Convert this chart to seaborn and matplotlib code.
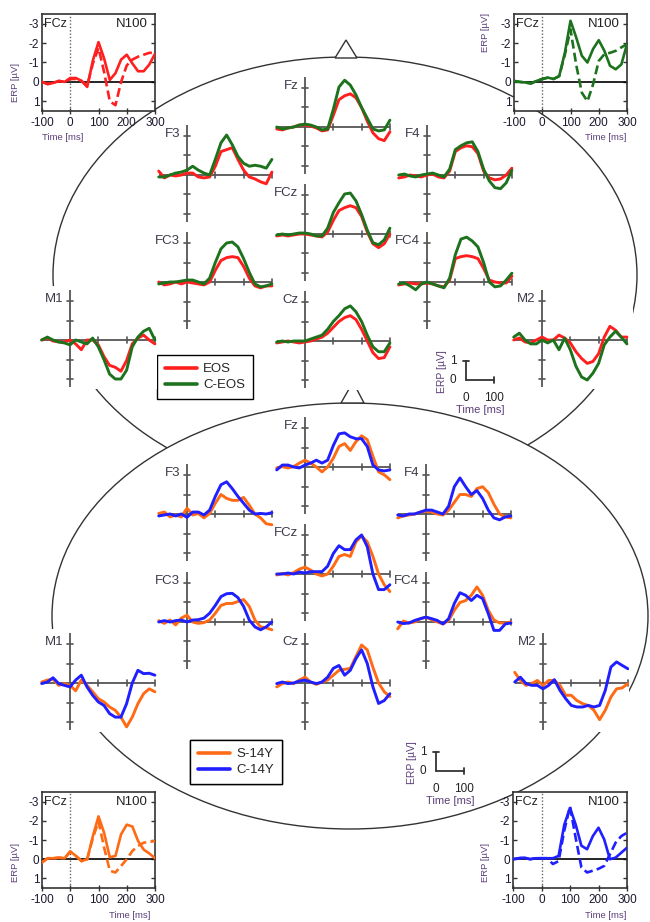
import numpy as np
import pandas as pd
import matplotlib
matplotlib.use("Agg")
import matplotlib.pyplot as plt
import seaborn as sns
from matplotlib.patches import Ellipse, Polygon
from matplotlib.lines import Line2D

sns.set_theme(style="white")
plt.rcParams["font.family"] = ["Liberation Sans", "DejaVu Sans"]
plt.rcParams["axes.unicode_minus"] = False

# ---------------- data (µV, negative plotted upward) ----------------
T = list(range(-100, 301, 20))
ELECTRODES = ["Fz", "F3", "F4", "FC3", "FCz", "FC4", "M1", "Cz", "M2"]

# upper head: EOS (red) vs C-EOS (green)
EOS_Fz = [0.1, 0.15, 0.05, 0.0, -0.1, -0.1, -0.05, 0.05, 0.2, 0.15, -0.6, -1.4, -1.6, -1.7, -1.5, -1.0, -0.3, 0.3, 0.6, 0.7, 0.25]
CEOS_Fz = [0.0, 0.1, 0.05, 0.0, -0.1, -0.15, -0.1, 0.0, 0.15, 0.1, -0.9, -2.05, -2.4, -2.15, -1.65, -1.0, -0.45, 0.1, 0.2, 0.15, -0.35]
EOS_F3 = [-0.2, 0.15, 0.0, 0.05, 0.0, -0.1, -0.1, 0.1, 0.15, 0.1, -0.45, -1.2, -1.3, -1.4, -0.8, -0.25, 0.1, 0.2, 0.35, 0.45, -0.15]
CEOS_F3 = [0.1, 0.1, 0.0, -0.1, -0.15, -0.25, -0.45, -0.25, -0.1, 0.0, -0.8, -1.65, -2.05, -1.55, -0.95, -0.6, -0.45, -0.5, -0.45, -0.35, -0.8]
EOS_F4 = [0.15, 0.1, 0.0, 0.05, 0.1, 0.0, -0.05, 0.1, 0.15, -0.2, -1.2, -1.4, -1.5, -1.45, -1.1, -0.2, 0.15, 0.25, 0.2, 0.0, -0.35]
CEOS_F4 = [0.0, -0.05, 0.05, 0.1, 0.0, -0.05, -0.1, 0.0, 0.1, -0.3, -1.3, -1.5, -1.65, -1.7, -1.2, -0.3, 0.3, 0.65, 0.7, 0.4, -0.25]
EOS_FC3 = [0.0, 0.15, 0.1, 0.0, 0.1, 0.0, 0.05, 0.1, 0.15, 0.0, -0.6, -1.1, -1.25, -1.3, -1.25, -0.8, -0.2, 0.2, 0.3, 0.2, 0.2]
CEOS_FC3 = [0.1, 0.05, 0.0, 0.0, -0.05, -0.1, -0.1, 0.0, 0.1, -0.2, -1.0, -1.7, -2.0, -2.05, -1.8, -1.2, -0.5, 0.1, 0.25, 0.2, 0.1]
EOS_FCz = [0.1, 0.05, 0.1, 0.05, 0.0, 0.0, 0.05, 0.1, 0.15, -0.1, -0.7, -1.2, -1.35, -1.45, -1.35, -0.9, -0.1, 0.5, 0.7, 0.5, 0.0]
CEOS_FCz = [0.05, 0.0, 0.05, 0.0, -0.05, -0.05, 0.0, 0.1, 0.1, -0.3, -1.1, -1.6, -2.05, -2.1, -1.7, -1.0, -0.2, 0.45, 0.55, 0.3, -0.3]
EOS_FC4 = [0.15, 0.1, 0.05, 0.1, 0.1, 0.05, 0.1, 0.2, 0.25, -0.1, -1.2, -1.3, -1.35, -1.3, -1.2, -0.7, -0.1, 0.0, 0.05, 0.05, -0.3]
CEOS_FC4 = [0.1, 0.05, 0.2, 0.4, 0.1, 0.0, 0.1, 0.2, 0.3, -0.2, -1.4, -2.2, -2.3, -2.1, -1.8, -1.0, 0.0, 0.25, 0.2, -0.1, -0.45]
EOS_M1 = [0.0, -0.1, 0.05, 0.1, 0.1, 0.0, 0.2, 0.5, 0.0, 0.0, 0.25, 0.85, 1.3, 1.4, 1.6, 1.05, 0.2, -0.1, -0.25, 0.0, 0.2]
CEOS_M1 = [0.0, -0.15, 0.0, 0.1, 0.15, 0.25, 0.0, 0.1, 0.2, -0.1, 0.35, 1.0, 1.75, 2.0, 2.0, 1.55, 0.35, -0.15, -0.45, -0.6, 0.0]
EOS_Cz = [0.1, 0.05, 0.0, 0.05, 0.1, 0.05, 0.0, -0.1, -0.2, -0.4, -0.7, -1.0, -1.2, -1.3, -1.1, -0.6, 0.0, 0.6, 0.9, 0.85, 0.3]
CEOS_Cz = [0.05, 0.0, 0.05, 0.0, 0.0, 0.0, -0.1, -0.2, -0.3, -0.6, -1.0, -1.3, -1.65, -1.8, -1.5, -1.0, -0.3, 0.3, 0.55, 0.55, 0.1]
EOS_M2 = [0.0, -0.1, 0.1, 0.15, 0.0, -0.15, 0.0, 0.0, -0.25, -0.1, 0.15, 0.6, 0.95, 1.2, 1.1, 0.7, -0.15, -0.7, -0.5, -0.15, -0.15]
CEOS_M2 = [-0.15, -0.35, 0.0, 0.2, 0.2, 0.0, 0.15, 0.0, 0.5, -0.1, 0.5, 1.35, 1.9, 2.05, 1.7, 1.2, 0.25, -0.15, -0.45, -0.15, 0.2]

# lower head: S-14Y (orange) vs C-14Y (blue)
S14_Fz = [0.05, -0.02, 0.05, -0.02, -0.2, -0.35, -0.2, 0.0, 0.25, 0.0, -0.45, -1.05, -1.2, -0.85, -1.3, -1.6, -1.4, -0.55, 0.25, 0.4, 0.65]
C14_Fz = [0.15, -0.1, -0.1, 0.0, 0.05, -0.1, -0.2, -0.35, -0.2, -0.35, -1.1, -1.7, -1.75, -1.55, -1.45, -1.45, -1.05, -0.1, 0.15, 0.2, 0.15]
S14_F3 = [-0.03, -0.1, 0.15, 0.05, 0.15, -0.3, 0.05, -0.03, 0.2, -0.03, -0.55, -1.0, -0.8, -0.7, -0.7, -0.85, -0.45, 0.0, 0.2, 0.5, 0.55]
C14_F3 = [0.1, 0.05, 0.0, 0.1, 0.0, 0.17, -0.1, -0.1, 0.05, -0.2, -0.9, -1.5, -1.65, -1.3, -0.9, -0.55, -0.2, 0.0, -0.03, 0.0, -0.07]
S14_F4 = [0.2, 0.1, 0.05, 0.0, -0.1, -0.15, -0.1, 0.0, 0.05, -0.2, -0.6, -1.0, -1.0, -0.9, -1.3, -1.4, -1.1, -0.5, 0.0, 0.15, 0.2]
C14_F4 = [0.05, 0.1, 0.0, 0.0, -0.1, -0.2, -0.2, -0.1, 0.0, -0.4, -1.4, -1.85, -1.4, -1.0, -1.2, -0.8, -0.2, 0.2, 0.3, 0.15, 0.1]
S14_FC3 = [-0.07, 0.07, -0.1, 0.15, -0.2, -0.35, 0.0, 0.07, 0.03, -0.1, -0.45, -0.85, -0.95, -0.95, -1.05, -1.15, -0.8, -0.1, 0.25, 0.3, 0.4]
C14_FC3 = [0.0, -0.07, 0.0, -0.07, -0.1, 0.0, -0.1, -0.12, -0.2, -0.45, -0.85, -1.3, -1.45, -1.47, -1.25, -0.8, -0.1, 0.25, 0.4, 0.25, 0.0]
S14_FCz = [0.05, -0.03, 0.05, -0.07, -0.25, -0.35, -0.2, 0.0, 0.1, 0.0, -0.4, -0.9, -1.0, -0.9, -1.65, -1.95, -1.65, -0.9, 0.0, 0.55, 0.9]
C14_FCz = [0.0, 0.0, -0.05, 0.0, -0.1, -0.05, -0.12, -0.12, -0.12, -0.4, -1.05, -1.45, -1.25, -1.25, -1.75, -2.0, -1.4, 0.0, 0.8, 0.8, 0.55]
S14_FC4 = [0.35, -0.05, 0.05, 0.0, -0.17, -0.25, -0.12, 0.0, 0.1, -0.08, -0.6, -1.0, -1.1, -1.37, -1.8, -1.37, -0.6, -0.1, 0.05, 0.05, 0.0]
C14_FC4 = [0.0, 0.08, 0.05, -0.08, -0.17, -0.25, -0.17, -0.08, 0.1, -0.17, -0.95, -1.5, -1.37, -1.1, -1.37, -1.2, -0.43, 0.43, 0.43, 0.1, 0.05]
S14_M1 = [-0.05, -0.15, -0.2, 0.12, 0.03, 0.12, 0.4, -0.15, 0.12, 0.45, 0.8, 0.97, 1.23, 1.4, 1.75, 2.25, 1.75, 1.06, 0.55, 0.3, 0.45]
C14_M1 = [0.03, -0.05, -0.27, 0.03, 0.12, 0.2, -0.15, -0.4, 0.2, 0.63, 0.97, 1.15, 1.57, 1.75, 1.75, 1.06, 0.0, -0.65, -0.48, -0.5, -0.4]
S14_Cz = [0.2, 0.03, -0.05, 0.03, -0.15, -0.3, -0.05, 0.07, -0.05, -0.15, -0.4, -0.65, -0.7, -0.75, -1.35, -1.95, -1.7, -0.8, 0.0, 0.45, 0.7]
C14_Cz = [0.03, -0.05, 0.03, 0.0, -0.1, -0.15, -0.05, 0.03, -0.05, -0.3, -0.75, -0.9, -0.4, -0.65, -1.25, -1.7, -1.0, 0.2, 1.05, 0.9, 0.55]
S14_M2 = [-0.55, -0.13, 0.12, 0.03, -0.13, 0.12, -0.13, -0.13, 0.12, 0.63, 0.63, 0.9, 1.06, 1.15, 1.4, 1.88, 1.4, 0.72, 0.3, 0.25, 0.03]
C14_M2 = [-0.05, -0.3, 0.03, 0.12, 0.12, 0.3, 0.12, -0.17, 0.38, 0.8, 1.15, 1.23, 1.23, 1.15, 1.23, 1.15, 0.38, -0.82, -1.08, -0.9, -0.73]

# FCz N100 insets (solid / dashed)
EOS_N100_SOLID = [0.0, 0.12, 0.05, -0.05, 0.0, -0.2, -0.2, -0.05, 0.26, -1.1, -2.05, -1.2, -0.1, -0.45, -1.15, -1.4, -0.95, -0.55, -0.55, -0.9, -1.45]
EOS_N100_DASHED = [0.0, 0.1, 0.05, -0.05, 0.0, -0.15, -0.15, -0.05, 0.2, -0.95, -1.75, -0.5, 1.0, 1.2, 0.0, -0.85, -1.15, -1.3, -1.4, -1.5, -1.5]
CEOS_N100_SOLID = [-0.05, 0.0, 0.03, 0.08, -0.05, -0.15, -0.22, -0.15, -0.3, -1.5, -3.15, -2.3, -1.35, -1.0, -1.7, -2.15, -1.6, -0.83, -0.65, -0.9, -1.95]
CEOS_N100_DASHED = [-0.05, 0.0, 0.03, 0.08, -0.05, -0.15, -0.22, -0.15, -0.3, -1.4, -2.7, -0.9, 0.55, 1.0, 0.12, -1.08, -1.43, -1.5, -1.6, -1.78, -1.95]
S14_N100_SOLID = [0.17, -0.05, -0.05, -0.08, -0.05, -0.4, -0.17, 0.1, 0.0, -1.2, -2.23, -1.37, -0.1, -0.17, -1.3, -1.8, -1.7, -0.95, -0.5, -0.3, -0.05]
S14_N100_DASHED = [0.17, -0.05, -0.05, -0.08, -0.05, -0.4, -0.17, 0.1, 0.0, -1.1, -1.97, -0.6, 0.6, 0.69, 0.35, 0.0, -0.43, -0.69, -0.86, -0.9, -0.95]
C14_N100_SOLID = [0.0, -0.05, -0.08, 0.0, -0.05, -0.05, -0.05, -0.05, -0.17, -1.8, -2.67, -1.8, -0.7, -0.52, -1.2, -1.64, -1.03, 0.0, -0.08, -0.34, -0.6]
C14_N100_DASHED = [0.0, -0.05, -0.08, 0.0, -0.05, -0.05, -0.05, 0.25, 0.1, -1.5, -2.75, -1.1, 0.43, 0.69, 0.6, 0.5, 0.35, -0.25, -0.86, -1.2, -1.38]

UPPER = {"EOS": [EOS_Fz, EOS_F3, EOS_F4, EOS_FC3, EOS_FCz, EOS_FC4, EOS_M1, EOS_Cz, EOS_M2],
         "C-EOS": [CEOS_Fz, CEOS_F3, CEOS_F4, CEOS_FC3, CEOS_FCz, CEOS_FC4, CEOS_M1, CEOS_Cz, CEOS_M2]}
LOWER = {"S-14Y": [S14_Fz, S14_F3, S14_F4, S14_FC3, S14_FCz, S14_FC4, S14_M1, S14_Cz, S14_M2],
         "C-14Y": [C14_Fz, C14_F3, C14_F4, C14_FC3, C14_FCz, C14_FC4, C14_M1, C14_Cz, C14_M2]}


def to_frame(groups):
    rows = []
    for g, series in groups.items():
        for el, vals in zip(ELECTRODES, series):
            for t, v in zip(T, vals):
                rows.append((g, el, t, v))
    return pd.DataFrame(rows, columns=["group", "electrode", "t", "v"])


df_up = to_frame(UPPER)
df_low = to_frame(LOWER)

# ---------------- styling / layout ----------------
RED, GREEN, ORANGE, BLUE = "#ff1f1f", "#1d731d", "#ff6a14", "#1f1fff"
AXC = "#555555"
LBL = "#3a3a4a"
PURP = "#5b3f7a"
HEAD = "#333333"

W, H = 650, 922
SX, SY = 0.283, 19.5  # px per ms, px per µV

# pixel position of (t=0, v=0) for every electrode plot
POS_UP = {"Fz": (305, 127), "F3": (187, 175), "F4": (427, 175), "FC3": (187, 282), "FCz": (305, 234),
          "FC4": (427, 282), "M1": (70, 340), "Cz": (305, 341), "M2": (542, 340)}
POS_LOW = {"Fz": (305, 467), "F3": (187, 514), "F4": (426, 514), "FC3": (187, 622), "FCz": (305, 574),
           "FC4": (426, 622), "M1": (70, 683), "Cz": (305, 683), "M2": (543, 683)}

fig = plt.figure(figsize=(W / 100, H / 100), dpi=100)
bg = fig.add_axes([0, 0, 1, 1], zorder=0)
bg.set_xlim(0, W)
bg.set_ylim(H, 0)
bg.axis("off")

# head outlines
bg.add_patch(Ellipse((345, 275), 584, 436, fill=False, ec=HEAD, lw=1.0, zorder=1))
bg.add_patch(Ellipse((350, 616), 596, 426, fc="white", ec=HEAD, lw=1.0, zorder=2))
bg.add_patch(Polygon([(335, 58), (346, 40), (357, 58)], closed=True, fc="white", ec=HEAD, lw=1.0, zorder=3))
bg.add_patch(Polygon([(341, 403), (353, 382), (364, 403)], closed=True, fc="white", ec=HEAD, lw=1.0, zorder=3))


def px_axes(x0, y0, t0, t1, v0, v1, zorder=2, face="white"):
    left, right = x0 + t0 * SX, x0 + t1 * SX
    top, bottom = y0 + v0 * SY, y0 + v1 * SY
    ax = fig.add_axes([left / W, 1 - bottom / H, (right - left) / W, (bottom - top) / H], zorder=zorder)
    ax.set_facecolor(face)
    for s in ax.spines.values():
        s.set_visible(False)
    ax.set_xticks([])
    ax.set_yticks([])
    return ax, (t0, t1, v0, v1)


def electrode(name, origin, df, palette, order, t1=306):
    ax, lims = px_axes(origin[0], origin[1], -108, t1, -2.75, 2.5)
    ax.plot([0, 0], [-2.55, 2.4], color=AXC, lw=1.3, zorder=1, solid_capstyle="butt")
    ax.plot([-100, 300], [0, 0], color=AXC, lw=1.3, zorder=1, solid_capstyle="butt")
    for v in [-2, -1, 1, 2]:
        ax.plot([-9, 9], [v, v], color=AXC, lw=1.2, zorder=1)
    for t in [100, 200, 300]:
        ax.plot([t, t], [-0.17, 0.17], color=AXC, lw=1.2, zorder=1)
    sns.lineplot(data=df[df["electrode"] == name], x="t", y="v", hue="group", hue_order=order,
                 palette=palette, linewidth=2.1, legend=False, estimator=None, ax=ax, zorder=3)
    ax.text(-24, -2.12, name, ha="right", va="center", fontsize=9.5, color=LBL)
    ax.set_xlim(lims[0], lims[1])
    ax.set_ylim(lims[3], lims[2])
    ax.set_xlabel("")
    ax.set_ylabel("")
    ax.set_xticks([])
    ax.set_yticks([])


for el in ELECTRODES:
    electrode(el, POS_UP[el], df_up, {"EOS": RED, "C-EOS": GREEN}, ["EOS", "C-EOS"],
              t1=322 if el == "M2" else 306)
    electrode(el, POS_LOW[el], df_low, {"S-14Y": ORANGE, "C-14Y": BLUE}, ["S-14Y", "C-14Y"],
              t1=303 if el == "M2" else 306)


def scale_bar(x0, y0):
    ax, lims = px_axes(x0, y0, -100, 140, -1.6, 1.8, face="none")
    ax.plot([0, 0], [0, -1], color="#333", lw=1.3)
    ax.plot([0, 100], [0, 0], color="#333", lw=1.3)
    ax.plot([-10, 10], [-1, -1], color="#333", lw=1.3)
    ax.plot([100, 100], [-0.17, 0.17], color="#333", lw=1.3)
    ax.text(-45, -1, "1", ha="center", va="center", fontsize=8.5, color="#222")
    ax.text(-45, 0, "0", ha="center", va="center", fontsize=8.5, color="#222")
    ax.text(0, 0.92, "0", ha="center", va="center", fontsize=8.5, color="#222")
    ax.text(100, 0.92, "100", ha="center", va="center", fontsize=8.5, color="#222")
    ax.text(50, 1.55, "Time [ms]", ha="center", va="center", fontsize=8, color=PURP)
    ax.text(-86, -0.45, "ERP [µV]", ha="center", va="center", rotation=90, fontsize=7.5, color=PURP)
    ax.set_xlim(lims[0], lims[1])
    ax.set_ylim(lims[3], lims[2])


scale_bar(466, 380)
scale_bar(436, 771)

# legends
def add_legend(x, y, labels, colors):
    handles = [Line2D([0], [0], color=c, lw=2.6) for c in colors]
    leg = bg.legend(handles, labels, loc="upper left", bbox_to_anchor=(x / W, 1 - y / H),
                    bbox_transform=fig.transFigure, borderaxespad=0, frameon=True, fancybox=False,
                    edgecolor="black", framealpha=1, fontsize=9.5, handlelength=2.4,
                    handletextpad=0.5, labelspacing=0.3, borderpad=0.6)
    leg.get_frame().set_linewidth(1.0)
    leg.set_zorder(10)
    bg.add_artist(leg)


add_legend(157, 355, ["EOS", "C-EOS"], [RED, GREEN])
add_legend(190, 740, ["S-14Y", "C-14Y"], [ORANGE, BLUE])


def inset(box, solid, dashed, color, time_xy, erp_xy):
    l, t, r, b = box
    ax = fig.add_axes([l / W, 1 - b / H, (r - l) / W, (b - t) / H], zorder=2)
    ax.set_facecolor("white")
    d = pd.DataFrame({"t": T * 2, "v": solid + dashed,
                      "kind": ["solid"] * len(T) + ["dashed"] * len(T)})
    ax.axhline(0, color="black", lw=1.2, zorder=1)
    ax.axvline(0, color="#666", lw=1.0, ls=(0, (1, 1.4)), zorder=1)
    sns.lineplot(data=d, x="t", y="v", style="kind", style_order=["solid", "dashed"],
                 dashes={"solid": "", "dashed": (3.4, 1.6)}, color=color, linewidth=1.9,
                 legend=False, estimator=None, ax=ax, zorder=3)
    ax.set_xlim(-100, 300)
    ax.set_ylim(1.5, -3.5)
    ax.set_xticks([-100, 0, 100, 200, 300])
    ax.set_xticklabels(["-100", "0", "100", "200", "300"])
    ax.set_yticks([-3, -2, -1, 0, 1])
    ax.set_yticklabels(["-3", "-2", "-1", "0", "1"])
    ax.tick_params(axis="both", direction="inout", length=5, width=1.0, color="#333",
                   labelsize=8.5, labelcolor="#1a1a2e", pad=2, bottom=True, left=True)
    ax.tick_params(axis="y", right=True, direction="in", length=3)
    ax.set_xlabel("")
    ax.set_ylabel("")
    for s in ax.spines.values():
        s.set_visible(True)
        s.set_color("#333")
        s.set_linewidth(1.2)
    ax.text(-92, -3.0, "FCz", ha="left", va="center", fontsize=9, color="#222")
    ax.text(276, -3.0, "N100", ha="right", va="center", fontsize=9.5, color="#222")
    bg.text(time_xy[0], time_xy[1], "Time [ms]", ha="center", va="center", fontsize=6.8, color=PURP)
    bg.text(erp_xy[0], erp_xy[1], "ERP [µV]", ha="center", va="center", rotation=90,
            fontsize=6.8, color=PURP)


inset((42, 14, 155, 111), EOS_N100_SOLID, EOS_N100_DASHED, RED, (63, 137), (15, 82))
inset((514, 14, 627, 111), CEOS_N100_SOLID, CEOS_N100_DASHED, GREEN, (606, 137), (485, 33))
inset((42, 792, 155, 888), S14_N100_SOLID, S14_N100_DASHED, ORANGE, (130, 915), (15, 862))
inset((513, 792, 627, 888), C14_N100_SOLID, C14_N100_DASHED, BLUE, (606, 915), (485, 862))

fig.savefig("out.png", dpi=100)
